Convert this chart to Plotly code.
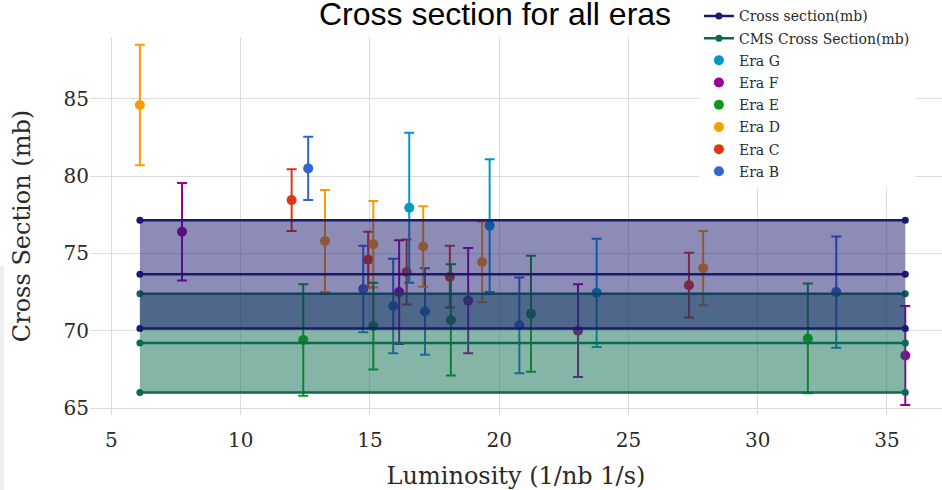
import plotly.graph_objects as go

# Luminosity (1/nb 1/s), measured cross section (mb) and its uncertainty per era
lumi_B = [12.61, 14.74, 15.90, 17.13, 20.78, 33.04]
xsec_B = [80.5, 72.7, 71.6, 71.25, 70.35, 72.5]
err_B = [2.05, 2.8, 3.05, 2.8, 3.1, 3.6]

lumi_C = [11.97, 14.93, 16.42, 18.09, 27.34]
xsec_C = [78.45, 74.6, 73.8, 73.5, 72.95]
err_C = [2.0, 1.8, 2.1, 2.0, 2.1]

lumi_D = [6.10, 13.26, 15.13, 17.06, 19.34, 27.89]
xsec_D = [84.6, 75.8, 75.6, 75.45, 74.45, 74.05]
err_D = [3.9, 3.3, 2.8, 2.6, 2.6, 2.4]

lumi_E = [12.42, 15.13, 18.13, 21.23, 31.94]
xsec_E = [69.4, 70.3, 70.7, 71.1, 69.5]
err_E = [3.6, 2.8, 3.6, 3.75, 3.55]

lumi_F = [7.73, 16.13, 18.80, 23.05, 35.71]
xsec_F = [76.4, 72.5, 71.95, 70.0, 68.4]
err_F = [3.15, 3.35, 3.4, 3.0, 3.2]

lumi_G = [16.52, 19.63, 23.77]
xsec_G = [77.95, 76.8, 72.45]
err_G = [4.85, 4.3, 3.5]

# Combined results drawn as bands over the full luminosity span
band_lumi = [6.10, 35.71]
xsec_mean, xsec_err = 73.65, 3.5
cms_mean, cms_err = 69.2, 3.2

x_ticks = [5, 10, 15, 20, 25, 30, 35]
y_ticks = [65, 70, 75, 80, 85]

SERIF = "DejaVu Serif, serif"
TEXT = "#2a2a2a"

fig = go.Figure()

# (name, x, y, error, colour, legend position)
eras = [
    ("Era B", lumi_B, xsec_B, err_B, "#3366CC", 8),
    ("Era C", lumi_C, xsec_C, err_C, "#DC3912", 7),
    ("Era D", lumi_D, xsec_D, err_D, "#FF9900", 6),
    ("Era E", lumi_E, xsec_E, err_E, "#109618", 5),
    ("Era F", lumi_F, xsec_F, err_F, "#990099", 4),
    ("Era G", lumi_G, xsec_G, err_G, "#0099C6", 3),
]
for name, x, y, e, color, rank in eras:
    fig.add_trace(go.Scatter(
        x=x, y=y, mode="markers", name=name, legendgroup=name,
        legendrank=rank,
        marker=dict(color=color, size=10),
        error_y=dict(type="data", array=e, color=color, thickness=2, width=5),
    ))


def add_band(name, mean, err, color, fill, rank):
    common = dict(x=band_lumi, mode="lines+markers", legendgroup=name,
                  legendrank=rank,
                  line=dict(color=color, width=2.5),
                  marker=dict(color=color, size=7))
    # upper edge, then lower edge filled up to it, then the central value
    fig.add_trace(go.Scatter(y=[mean + err] * 2, showlegend=False, **common))
    fig.add_trace(go.Scatter(y=[mean - err] * 2, showlegend=False,
                             fill="tonexty", fillcolor=fill, **common))
    fig.add_trace(go.Scatter(y=[mean] * 2, name=name, **common))


# CMS band first, so the measured band is laid over it
add_band("CMS Cross Section(mb)", cms_mean, cms_err, "#0b6b50",
         "rgba(11,107,80,0.5)", 2)
add_band("Cross section(mb)", xsec_mean, xsec_err, "#191970",
         "rgba(25,25,112,0.5)", 1)

axis_common = dict(
    showgrid=True, gridcolor="#dcdcdc", gridwidth=1, zeroline=False,
    showline=False, ticks="",
    tickfont=dict(family=SERIF, size=20, color=TEXT),
)

fig.update_layout(
    width=942, height=490,
    paper_bgcolor="white", plot_bgcolor="white",
    margin=dict(l=90, r=0, t=35, b=75),
    title=dict(text="Cross section for all eras", x=0.5255, xanchor="center",
               y=0.972, yanchor="middle", xref="container", yref="container",
               font=dict(family="Liberation Sans", size=32, color="black")),
    xaxis=dict(range=[4.17, 37.13], tickvals=x_ticks, ticklabelstandoff=11,
               title=dict(text="Luminosity (1/nb 1/s)", standoff=17,
                          font=dict(family=SERIF, size=24, color=TEXT)),
               **axis_common),
    yaxis=dict(range=[64.55, 89.0], tickvals=y_ticks,
               title=dict(text="Cross Section (mb)", standoff=26,
                          font=dict(family=SERIF, size=24, color=TEXT)),
               **axis_common),
    legend=dict(x=0.7147, y=1.097, xanchor="left", yanchor="top",
                bgcolor="white", traceorder="grouped",
                tracegroupgap=1,
                font=dict(family=SERIF, size=14, color=TEXT)),
    showlegend=True,
    shapes=[dict(type="rect", xref="paper", yref="paper",
                 x0=-0.1056, x1=-0.1009, y0=-0.2, y1=0.395,
                 fillcolor="#efefef", line=dict(width=0), layer="below")],
)

fig.write_html("out.html")
